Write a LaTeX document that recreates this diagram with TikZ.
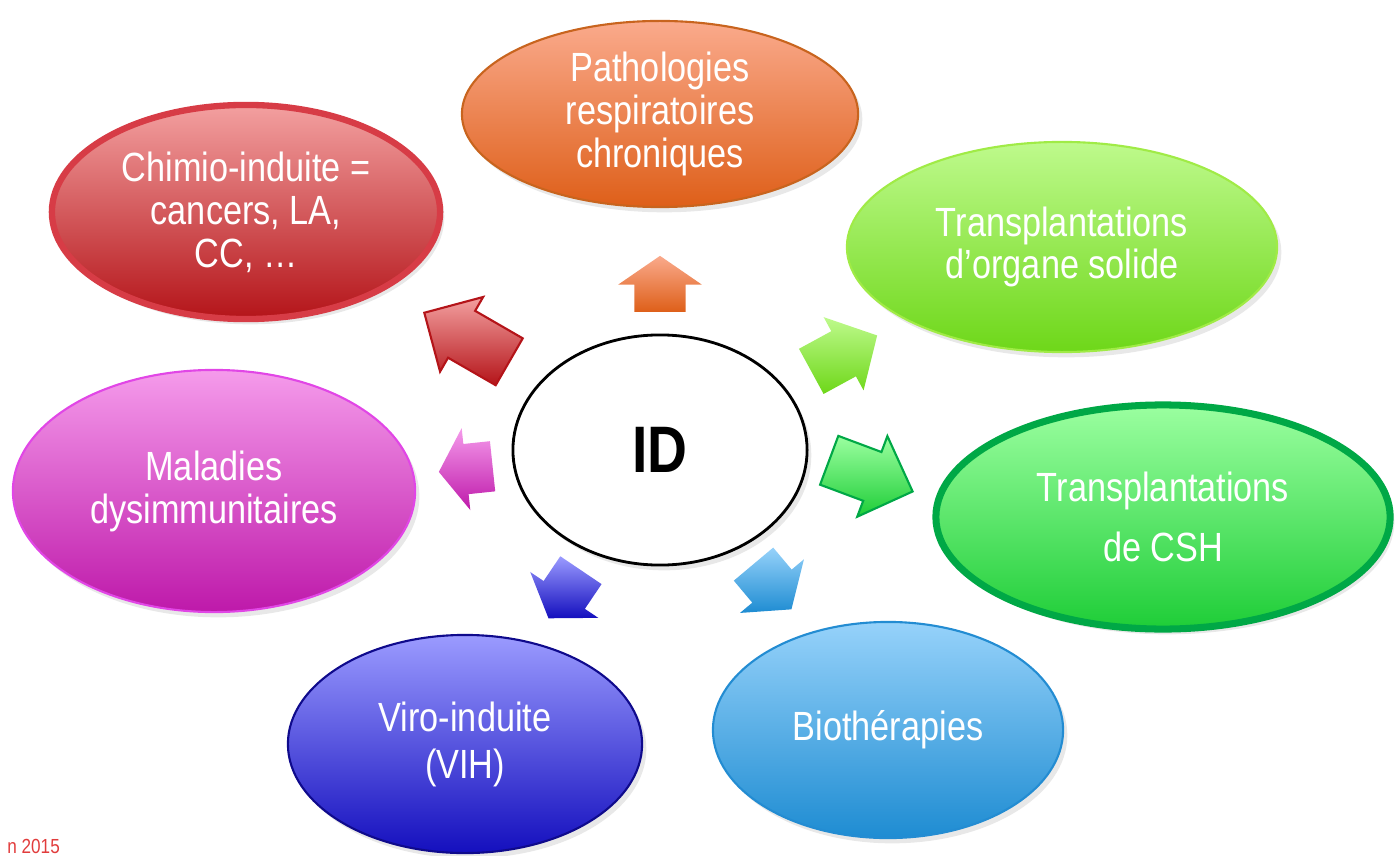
\documentclass[tikz,border=0pt]{standalone}
\usepackage{fontspec}
\setmainfont{Liberation Sans}
\newfontfamily\narrowfont[FakeStretch=0.84]{Liberation Sans}
\usetikzlibrary{shapes.geometric, shapes.arrows, shadows}

\definecolor{orgTop}{RGB}{250,170,140}  \definecolor{orgBot}{RGB}{222,95,25}   \definecolor{orgLine}{RGB}{200,100,30}
\definecolor{redTop}{RGB}{243,160,160}  \definecolor{redBot}{RGB}{180,20,25}   \definecolor{redLine}{RGB}{215,60,70}
\definecolor{limTop}{RGB}{190,250,140}  \definecolor{limBot}{RGB}{110,215,25}  \definecolor{limLine}{RGB}{160,235,70}
\definecolor{grnTop}{RGB}{155,255,160}  \definecolor{grnBot}{RGB}{30,205,55}   \definecolor{grnLine}{RGB}{0,168,70}
\definecolor{bluTop}{RGB}{150,210,250}  \definecolor{bluBot}{RGB}{30,140,210}  \definecolor{bluLine}{RGB}{35,140,210}
\definecolor{vioTop}{RGB}{155,155,255}  \definecolor{vioBot}{RGB}{20,15,190}   \definecolor{vioLine}{RGB}{15,10,140}
\definecolor{magTop}{RGB}{245,155,235}  \definecolor{magBot}{RGB}{190,25,170}  \definecolor{magLine}{RGB}{225,70,230}
\definecolor{srcRed}{RGB}{225,60,60}

\tikzset{
  shd/.style   = {drop shadow={opacity=0.18, shadow xshift=1.2pt, shadow yshift=-1.5pt}},
  blob/.style  = {ellipse, draw, inner sep=0pt, align=center, text=white, shd,
                  font=\narrowfont\fontsize{11.6pt}{12.2pt}\selectfont},
  hub/.style   = {ellipse, draw=black, line width=0.8pt, fill=white, inner sep=0pt, shd,
                  font=\narrowfont\fontsize{18.7pt}{20pt}\selectfont\bfseries},
  blk/.style   = {single arrow, single arrow head indent=0pt, anchor=tip,
                  inner xsep=0pt, inner ysep=0.25cm,
                  minimum height=0.57cm, minimum width=0.82cm,
                  single arrow head extend=0.16cm, single arrow tip angle=110},
  src/.style   = {text=srcRed, font=\narrowfont\fontsize{5.8pt}{6pt}\selectfont}
}

\begin{document}
\begin{tikzpicture}[x=0.01cm, y=-0.01cm]
  \useasboundingbox (0,0) rectangle (1395,855);

  % ── Centre ────────────────────────────────────────────────────────────────
  \node[hub, minimum width=2.94cm, minimum height=2.30cm] (ID) at (660,450) {ID};

  % ── Surrounding causes ────────────────────────────────────────────────────
  \node[blob, top color=orgTop, bottom color=orgBot, draw=orgLine, line width=0.6pt,
        minimum width=3.96cm, minimum height=1.86cm] (Resp) at (660,114)
        {Pathologies\\respiratoires\\chroniques};
  \node[blob, top color=redTop, bottom color=redBot, draw=redLine, line width=1.8pt,
        minimum width=3.88cm, minimum height=2.14cm] (Chimio) at (246,212)
        {Chimio-induite =\\cancers, LA,\\CC, \ldots};
  \node[blob, top color=limTop, bottom color=limBot, draw=limLine, line width=0.6pt,
        minimum width=4.30cm, minimum height=2.10cm] (Organe) at (1062,247)
        {Transplantations\\d’organe solide};
  \node[blob, top color=grnTop, bottom color=grnBot, draw=grnLine, line width=2pt,
        minimum width=4.54cm, minimum height=2.24cm] (CSH) at (1163,517)
        {Transplantations\\[4.8pt]de CSH};
  \node[blob, top color=bluTop, bottom color=bluBot, draw=bluLine, line width=0.6pt,
        minimum width=3.50cm, minimum height=2.16cm] (Bio) at (888,730)
        {Biothérapies};
  \node[blob, top color=vioTop, bottom color=vioBot, draw=vioLine, line width=0.6pt,
        minimum width=3.54cm, minimum height=2.18cm] (Viro) at (465,744)
        {Viro-induite\\[1.2pt](VIH)};
  \node[blob, top color=magTop, bottom color=magBot, draw=magLine, line width=0.6pt,
        minimum width=4.02cm, minimum height=2.42cm] (Dysimm) at (214,491)
        {Maladies\\dysimmunitaires};

  % ── Block arrows (tip placed at the coordinate) ───────────────────────────
  \node[blk, rotate=90, top color=orgTop, bottom color=orgBot,
        minimum height=0.56cm, single arrow tip angle=111]
        (toResp) at (660,255) {};
  \node[blk, rotate=150, top color=redTop, bottom color=redBot,
        draw=redBot, line width=0.6pt, inner ysep=0.26cm,
        minimum height=0.98cm, minimum width=0.85cm, single arrow tip angle=90]
        (toChimio) at (423,312) {};
  \node[blk, rotate=28.6, top color=limTop, bottom color=limBot,
        minimum height=0.75cm, single arrow tip angle=95]
        (toOrgane) at (878,335) {};
  \node[blk, rotate=-20.5, top color=grnTop, bottom color=grnBot,
        draw=grnLine, line width=0.6pt, inner ysep=0.235cm,
        minimum height=0.89cm, minimum width=0.86cm, single arrow tip angle=90]
        (toCSH) at (914,492) {};
  \node[blk, rotate=-50, top color=bluTop, bottom color=bluBot,
        minimum height=0.59cm, single arrow tip angle=108]
        (toBio) at (792,610) {};
  \node[blk, rotate=236, top color=vioTop, bottom color=vioBot,
        inner ysep=0.24cm, minimum height=0.58cm, single arrow tip angle=111]
        (toViro) at (548,619) {};
  \node[blk, rotate=186, top color=magTop, bottom color=magBot,
        inner ysep=0.245cm, minimum height=0.54cm, minimum width=0.81cm,
        single arrow tip angle=113]
        (toDysimm) at (438,472) {};

  % source line, cut at the left edge
  \node[src, anchor=base west] (source) at (-5,853) {n 2015};
\end{tikzpicture}
\end{document}
